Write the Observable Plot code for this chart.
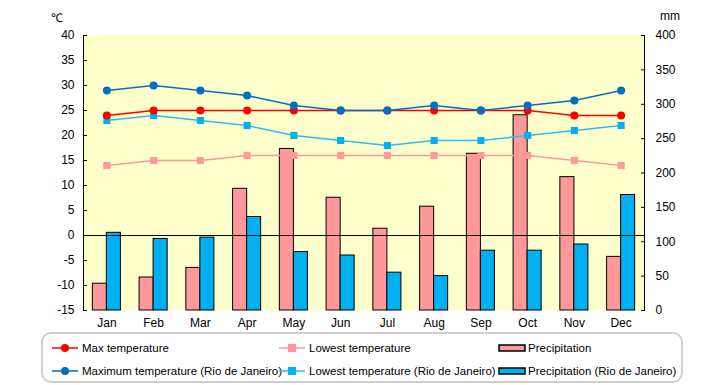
<!DOCTYPE html>
<html>
<head>
<meta charset="utf-8">
<script src="https://cdn.jsdelivr.net/npm/d3@7"></script>
<script src="https://cdn.jsdelivr.net/npm/@observablehq/plot@0.6"></script>
<style>
  body { margin: 0; background: #fff; font-family: "Liberation Sans", Arial, sans-serif; }
  #wrap { position: relative; width: 720px; height: 385px; }
  .unit { position: absolute; font-size: 12px; color: #000; }
  #legend { position: absolute; left: 41px; top: 332px; width: 638px; height: 47px;
            border: 2px solid #cfcfcf; border-radius: 10px; background: #fff; }
  .item { position: absolute; display: flex; align-items: center; font-size: 11.5px; color: #000; white-space: nowrap; }
  .item svg { display: block; margin-right: 2px; }
</style>
</head>
<body>
<div id="wrap">
  <div id="chart"></div>
  <div class="unit" style="left:51px;top:9px;">℃</div>
  <div class="unit" style="left:660px;top:9px;">mm</div>
  <div id="legend"></div>
</div>
<script>
const months = ["Jan","Feb","Mar","Apr","May","Jun","Jul","Aug","Sep","Oct","Nov","Dec"];
const maxTemp = [24,25,25,25,25,25,25,25,25,25,24,24];
const lowTemp = [14,15,15,16,16,16,16,16,16,16,15,14];
const rioMax  = [29,30,29,28,26,25,25,26,25,26,27,29];
const rioLow  = [23,24,23,22,20,19,18,19,19,20,21,22];
const precip    = [39,48,62,177,235,164,119,151,228,284,194,78];
const rioPrecip = [113,104,106,136,85,80,55,50,87,87,96,168];
const tempTicks = d3.range(-15, 41, 5);
const precipTicks = d3.range(0, 401, 50);
const seriesNames = ["Max temperature","Lowest temperature","Precipitation",
  "Maximum temperature (Rio de Janeiro)","Lowest temperature (Rio de Janeiro)","Precipitation (Rio de Janeiro)"];

const colors = {
  max: "#ff0000", low: "#ff9999", prec: "#ff9999",
  rioMax: "#0070c0", rioLow: "#00b0f0", rioPrec: "#00b0f0"
};

// precipitation (0..400 mm) mapped onto the temperature axis (-15..40)
const toT = p => -15 + p * 55 / 400;
const toP = t => (t + 15) * 400 / 55;

const data = months.map((m, i) => ({
  month: m, max: maxTemp[i], low: lowTemp[i], rioMax: rioMax[i], rioLow: rioLow[i],
  prec: precip[i], rioPrec: rioPrecip[i]
}));

const chart = Plot.plot({
  width: 720, height: 330,
  marginLeft: 83, marginRight: 76, marginTop: 35, marginBottom: 20,
  style: { fontFamily: "Liberation Sans, Arial, sans-serif", fontSize: "12px", color: "#000", background: "transparent" },
  x: { type: "band", domain: months, paddingInner: 0.4, paddingOuter: 0.2, round: false },
  y: { domain: [-15, 40] },
  marks: [
    Plot.frame({ fill: "#ffffcc", stroke: "none" }),
    Plot.barY(data, { x: "month", y1: () => -15, y2: d => toT(d.prec), fill: colors.prec, stroke: "#000", strokeWidth: 1, insetRight: 14, insetLeft: 0 }),
    Plot.barY(data, { x: "month", y1: () => -15, y2: d => toT(d.rioPrec), fill: colors.rioPrec, stroke: "#000", strokeWidth: 1, insetLeft: 14, insetRight: 0 }),
    Plot.ruleY([0], { stroke: "#000", strokeWidth: 1.2 }),
    Plot.line(data, { x: "month", y: "low", stroke: colors.low, strokeWidth: 1.5 }),
    Plot.line(data, { x: "month", y: "rioLow", stroke: "#33bbee", strokeWidth: 1.5 }),
    Plot.line(data, { x: "month", y: "max", stroke: colors.max, strokeWidth: 1.5 }),
    Plot.line(data, { x: "month", y: "rioMax", stroke: colors.rioMax, strokeWidth: 1.5 }),
    Plot.dot(data, { x: "month", y: "low", symbol: "square", r: 4, fill: colors.low }),
    Plot.dot(data, { x: "month", y: "rioLow", symbol: "square", r: 4, fill: colors.rioLow }),
    Plot.dot(data, { x: "month", y: "max", r: 4, fill: colors.max }),
    Plot.dot(data, { x: "month", y: "rioMax", r: 4, fill: colors.rioMax }),
    Plot.axisY({ anchor: "left", ticks: tempTicks, tickSize: -4, tickPadding: 13, label: null, tickFormat: d => String(d) }),
    Plot.axisY({ anchor: "right", ticks: precipTicks.map(toT), tickSize: -4, tickPadding: 15, label: null, tickFormat: t => String(Math.round(toP(t))) }),
    Plot.axisX({ tickSize: 0, tickPadding: 8, label: null }),
    Plot.frame({ anchor: "left", stroke: "#000" }),
    Plot.frame({ anchor: "right", stroke: "#000" })
  ]
});
document.getElementById("chart").appendChild(chart);

// legend
const legend = document.getElementById("legend");
function lineSwatch(color, symbol, lineColor) {
  const mk = symbol === "circle"
    ? `<circle cx="13" cy="6" r="4" fill="${color}"/>`
    : `<rect x="9" y="2" width="8" height="8" fill="${color}"/>`;
  return `<svg width="28" height="12"><line x1="0" x2="26" y1="6" y2="6" stroke="${lineColor || color}" stroke-width="1.5"/>${mk}</svg>`;
}
function barSwatch(color) {
  return `<svg width="28" height="12"><rect x="1" y="3" width="26" height="6" fill="${color}" stroke="#000" stroke-width="1.5"/></svg>`;
}
const items = [
  { x: 9,   y: 8,  sw: lineSwatch(colors.max, "circle") },
  { x: 236, y: 8,  sw: lineSwatch(colors.low, "square") },
  { x: 455, y: 8,  sw: barSwatch(colors.prec) },
  { x: 9,   y: 31, sw: lineSwatch(colors.rioMax, "circle") },
  { x: 236, y: 31, sw: lineSwatch(colors.rioLow, "square", "#33bbee") },
  { x: 455, y: 31, sw: barSwatch(colors.rioPrec) }
];
items.forEach((it, i) => {
  const div = document.createElement("div");
  div.className = "item";
  div.style.left = it.x + "px";
  div.style.top = it.y + "px";
  div.innerHTML = it.sw + `<span>${seriesNames[i]}</span>`;
  legend.appendChild(div);
});
</script>
</body>
</html>
